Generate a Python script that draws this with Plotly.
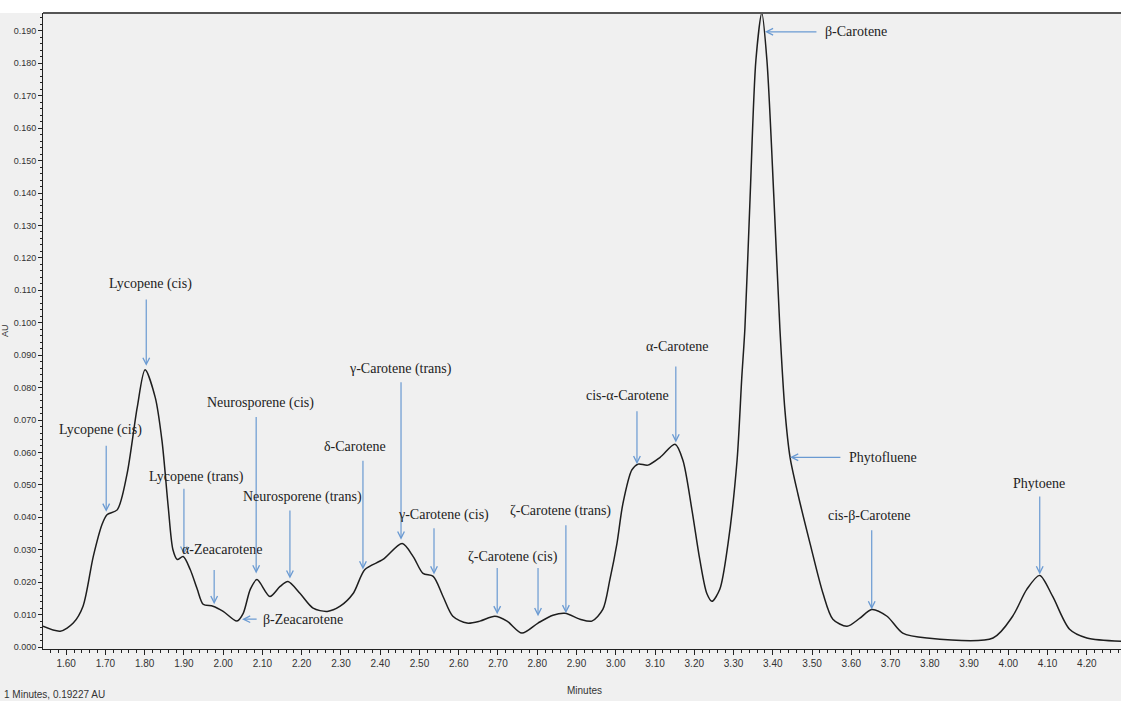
import plotly.graph_objects as go

# ---- chromatogram data (retention time in minutes, absorbance in AU) ----
times = [1.541, 1.585, 1.618, 1.643, 1.669, 1.692, 1.704, 1.730, 1.755, 1.781,
         1.801, 1.827, 1.844, 1.860, 1.872, 1.883, 1.898, 1.916, 1.934, 1.949,
         1.974, 2.000, 2.035, 2.051, 2.069, 2.086, 2.119, 2.145, 2.165, 2.196,
         2.229, 2.265, 2.298, 2.331, 2.361, 2.407, 2.456, 2.484, 2.509, 2.535,
         2.560, 2.585, 2.621, 2.654, 2.692, 2.723, 2.761, 2.802, 2.840, 2.871,
         2.909, 2.939, 2.967, 2.985, 3.003, 3.018, 3.041, 3.057, 3.082, 3.113,
         3.151, 3.171, 3.194, 3.214, 3.232, 3.245, 3.265, 3.286, 3.309, 3.321,
         3.329, 3.342, 3.357, 3.372, 3.385, 3.403, 3.418, 3.431, 3.444, 3.464,
         3.495, 3.528, 3.553, 3.589, 3.622, 3.652, 3.691, 3.731, 3.793, 3.961,
         4.011, 4.047, 4.080, 4.113, 4.156, 4.200, 4.287]
absorbance = [0.0064, 0.0049, 0.0074, 0.0126, 0.0279, 0.0380, 0.0408, 0.0423, 0.0533, 0.0739,
              0.0855, 0.0769, 0.0637, 0.0432, 0.0300, 0.0270, 0.0279, 0.0239, 0.0178, 0.0132,
              0.0126, 0.0110, 0.0080, 0.0104, 0.0178, 0.0208, 0.0156, 0.0187, 0.0202, 0.0165,
              0.0120, 0.0110, 0.0126, 0.0165, 0.0239, 0.0270, 0.0319, 0.0279, 0.0227, 0.0218,
              0.0156, 0.0095, 0.0074, 0.0080, 0.0095, 0.0080, 0.0043, 0.0074, 0.0098, 0.0104,
              0.0086, 0.0080, 0.0116, 0.0208, 0.0319, 0.0441, 0.0546, 0.0564, 0.0561, 0.0585,
              0.0625, 0.0576, 0.0423, 0.0270, 0.0165, 0.0141, 0.0178, 0.0319, 0.0576, 0.0831,
              0.0984, 0.1380, 0.1810, 0.1955, 0.1810, 0.1380, 0.0984, 0.0729, 0.0585, 0.0472,
              0.0319, 0.0165, 0.0086, 0.0064, 0.0089, 0.0116, 0.0095, 0.0043, 0.0028, 0.0028,
              0.0095, 0.0178, 0.0221, 0.0156, 0.0055, 0.0028, 0.0018]

# ---- peak labels ----
compounds = ["Lycopene (cis)", "Lycopene (cis)", "Lycopene (trans)", "α-Zeacarotene",
             "β-Zeacarotene", "Neurosporene (cis)", "Neurosporene (trans)", "δ-Carotene",
             "γ-Carotene (trans)", "γ-Carotene (cis)", "ζ-Carotene (cis)", "ζ-Carotene (trans)",
             "cis-α-Carotene", "α-Carotene", "Phytofluene", "cis-β-Carotene", "Phytoene",
             "β-Carotene"]

# annotation geometry: (text_x, text_y, anchor, arrows[(tail_x, tail_y, tip_x, tip_y), ...])
label_layout = [
    (1.687, 0.0668, "center", [(1.702, 0.0625, 1.702, 0.0417)]),
    (1.814, 0.1119, "center", [(1.804, 0.1076, 1.804, 0.0867)]),
    (1.931, 0.0524, "center", [(1.900, 0.0493, 1.900, 0.0285)]),
    (1.997, 0.0300, "center", [(1.977, 0.0242, 1.977, 0.0132)]),
    (2.097, 0.0086, "left",   [(2.089, 0.0086, 2.048, 0.0086)]),
    (2.094, 0.0754, "center", [(2.084, 0.0714, 2.084, 0.0227)]),
    (2.201, 0.0463, "center", [(2.170, 0.0426, 2.170, 0.0211)]),
    (2.336, 0.0619, "center", [(2.356, 0.0579, 2.356, 0.0239)]),
    (2.451, 0.0858, "center", [(2.453, 0.0821, 2.453, 0.0331)]),
    (2.560, 0.0408, "center", [(2.537, 0.0371, 2.537, 0.0224)]),
    (2.738, 0.0279, "center", [(2.698, 0.0248, 2.698, 0.0101),
                               (2.802, 0.0248, 2.802, 0.0095)]),
    (2.858, 0.0420, "center", [(2.873, 0.0380, 2.873, 0.0104)]),
    (3.031, 0.0775, "center", [(3.054, 0.0732, 3.054, 0.0564)]),
    (3.156, 0.0926, "center", [(3.153, 0.0870, 3.153, 0.0631)]),
    (3.589, 0.0585, "left",   [(3.576, 0.0585, 3.444, 0.0585)]),
    (3.647, 0.0405, "center", [(3.652, 0.0365, 3.652, 0.0116)]),
    (4.078, 0.0503, "center", [(4.080, 0.0469, 4.080, 0.0224)]),
    (3.528, 0.1897, "left",   [(3.515, 0.1897, 3.380, 0.1897)]),
]

x_ticks = [round(1.60 + 0.1 * i, 2) for i in range(27)]
y_ticks = [round(0.01 * i, 2) for i in range(20)]

fig = go.Figure()
fig.add_trace(go.Scatter(
    x=times, y=absorbance, mode="lines",
    line=dict(color="#1e1e1e", width=1.5, shape="spline", smoothing=0.8),
    showlegend=False, hoverinfo="skip",
))

annotations = []
arrow_color = "#6a9ad2"
for name, (tx, ty, anchor, arrows) in zip(compounds, label_layout):
    annotations.append(dict(
        x=tx, y=ty, xref="x", yref="y", text=name, showarrow=False,
        xanchor=anchor, yanchor="middle",
        font=dict(family="Liberation Serif", size=14, color="#222222"),
    ))
    for (ax_, ay_, hx, hy) in arrows:
        annotations.append(dict(
            x=hx, y=hy, xref="x", yref="y", ax=ax_, ay=ay_, axref="x", ayref="y",
            text="", showarrow=True, arrowhead=5, arrowsize=1.1, arrowwidth=1.2,
            arrowcolor=arrow_color, standoff=0, startstandoff=0,
        ))

annotations += [
    dict(x=0.0, y=0.0, xref="paper", yref="paper", xanchor="left", yanchor="top",
         xshift=-41, yshift=-38, text="1 Minutes, 0.19227 AU", showarrow=False,
         font=dict(family="Liberation Sans", size=10, color="#333333")),
    dict(x=2.87, y=0.0, xref="x", yref="paper", xanchor="left", yanchor="top",
         yshift=-34, text="Minutes", showarrow=False,
         font=dict(family="Liberation Sans", size=10, color="#333333")),
    dict(x=0.0, y=0.5, xref="paper", yref="paper", xanchor="center", yanchor="middle",
         xshift=-38, text="AU", textangle=-90, showarrow=False,
         font=dict(family="Liberation Sans", size=9, color="#333333")),
]

fig.update_layout(
    width=1121, height=701,
    margin=dict(l=43, r=0, t=13, b=52),
    paper_bgcolor="#f0f0f0", plot_bgcolor="#f0f0f0",
    annotations=annotations,
    shapes=[
        dict(type="rect", xref="paper", yref="paper", x0=-0.05, x1=1.01, y0=1.0, y1=1.05,
             fillcolor="white", line=dict(width=0), layer="below"),
        dict(type="line", xref="paper", yref="paper", x0=0, x1=1, y0=1, y1=1,
             line=dict(color="#555555", width=2)),
    ],
    xaxis=dict(
        range=[1.541, 4.287], tickvals=x_ticks, ticktext=[f"{v:.2f}" for v in x_ticks],
        showgrid=False, zeroline=False, showline=True, linecolor="#222222", linewidth=1,
        ticks="outside", ticklen=5, tickcolor="#222222",
        minor=dict(dtick=0.02, tick0=1.6, ticks="outside", ticklen=3, tickcolor="#222222"),
        tickfont=dict(family="Liberation Sans", size=10, color="#333333"),
    ),
    yaxis=dict(
        range=[-0.0006, 0.1955], tickvals=y_ticks, ticktext=[f"{v:.3f}" for v in y_ticks],
        showgrid=False, zeroline=False, showline=True, linecolor="#222222", linewidth=1,
        ticks="outside", ticklen=4, tickcolor="#222222",
        minor=dict(dtick=0.002, tick0=0, ticks="outside", ticklen=2, tickcolor="#222222"),
        tickfont=dict(family="Liberation Sans", size=9, color="#333333"),
    ),
)

fig.write_html("out.html")
